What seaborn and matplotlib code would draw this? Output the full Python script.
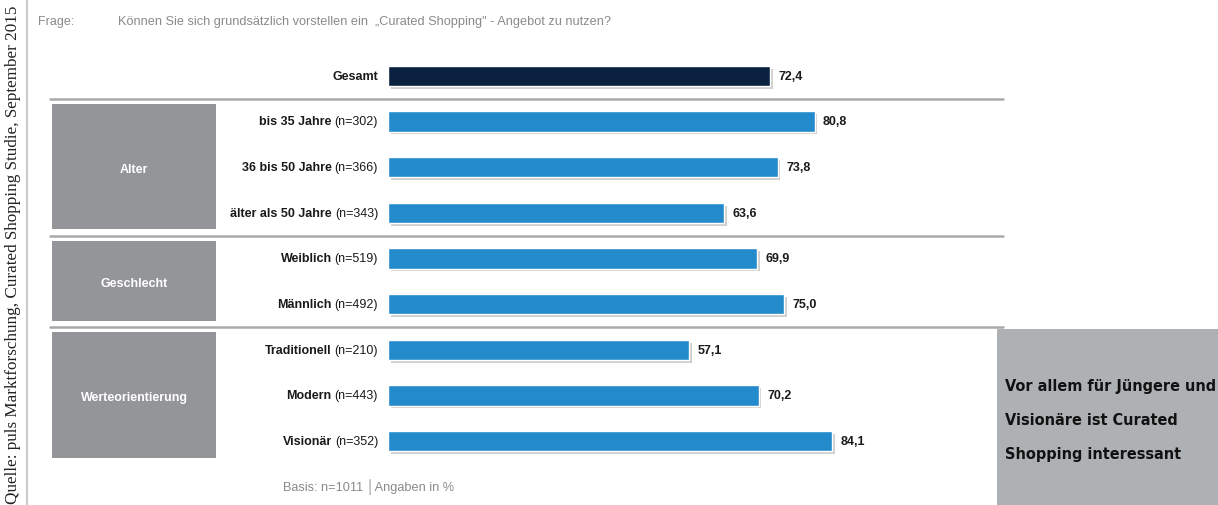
import pandas as pd
import seaborn as sns
import matplotlib.pyplot as plt
import matplotlib.patheffects as pe
from matplotlib import transforms
from matplotlib.patches import Rectangle

sns.set_theme(style="white")
plt.rcParams['font.family'] = ['Liberation Sans', 'DejaVu Sans']

# data
kategorien = ["Gesamt", "bis 35 Jahre", "36 bis 50 Jahre", "älter als 50 Jahre",
              "Weiblich", "Männlich", "Traditionell", "Modern", "Visionär"]
fallzahlen = ["", "(n=302)", "(n=366)", "(n=343)", "(n=519)", "(n=492)",
              "(n=210)", "(n=443)", "(n=352)"]
werte = [72.4, 80.8, 73.8, 63.6, 69.9, 75.0, 57.1, 70.2, 84.1]
gruppe = ["Gesamt", "Gruppe", "Gruppe", "Gruppe", "Gruppe", "Gruppe",
          "Gruppe", "Gruppe", "Gruppe"]
gruppen = ["Alter", "Geschlecht", "Werteorientierung"]
gruppen_von = [1, 4, 6]
gruppen_bis = [3, 5, 8]

df = pd.DataFrame({"kategorie": kategorien, "wert": werte, "gruppe": gruppe})

W, H = 1218, 506
fig = plt.figure(figsize=(W / 100, H / 100), dpi=100)
fig.patch.set_facecolor("white")

def fx(px):
    return px / W

def fy(py):
    return 1 - py / H

# bar axes: 0..100 maps to x 388..916 px
ax = fig.add_axes([fx(388), fy(465), fx(528), (465 - 54) / H])
sns.barplot(data=df, x="wert", y="kategorie", hue="gruppe",
            palette={"Gesamt": "#0a2240", "Gruppe": "#238acb"},
            orient="h", width=0.44, dodge=False, legend=False, ax=ax,
            saturation=1)
ax.set_xlim(0, 100)
ax.set_ylim(8.5, -0.5)
ax.axis("off")

for p in ax.patches:
    p.set_path_effects([pe.SimplePatchShadow(offset=(2, -2), shadow_rgbFace="#777777", alpha=0.35),
                        pe.Normal()])

for i, v in enumerate(werte):
    ax.text(v + 1.6, i, f"{v:.1f}".replace(".", ","), ha="left", va="center",
            fontsize=9, fontweight="bold", color="#1a1a1a")

# category labels: bold name + normal n
blend = transforms.blended_transform_factory(fig.transFigure, ax.transData)
renderer = fig.canvas.get_renderer()
for i, (k, n) in enumerate(zip(kategorien, fallzahlen)):
    x_end = fx(378)
    if n:
        t = ax.text(x_end, i, n, transform=blend, ha="right", va="center",
                    fontsize=9, color="#1a1a1a")
        w = t.get_window_extent(renderer).width
        x_end = x_end - (w + 3) / W
    ax.text(x_end, i, k, transform=blend, ha="right", va="center",
            fontsize=9, fontweight="bold", color="#1a1a1a")

# separators
for yv in [0.5, 3.5, 5.5]:
    ax.plot([fx(50), fx(1003)], [yv, yv], transform=blend, color="#a9a9a9",
            lw=1.8, clip_on=False)

# group boxes
for g, a, b in zip(gruppen, gruppen_von, gruppen_bis):
    y0 = a - 0.38
    y1 = b + 0.36
    ax.add_patch(Rectangle((fx(52), y0), fx(164), y1 - y0, transform=blend,
                           facecolor="#939598", edgecolor="none", clip_on=False))
    ax.text(fx(134), (y0 + y1) / 2 + 0.05, g, transform=blend, ha="center", va="center",
            fontsize=9, fontweight="bold", color="white")

# right key message box
fig.add_artist(Rectangle((fx(997), 0), fx(221), (506 - 330) / H,
                         transform=fig.transFigure, facecolor="#aeb1b3", edgecolor="none"))
for j, line in enumerate(["Vor allem für Jüngere und", "Visionäre ist Curated",
                          "Shopping interessant"]):
    fig.text(fx(1005), fy(386 + 34.5 * j), line, ha="left", va="center",
             fontsize=11.6, fontweight="bold", fontstretch="condensed",
             color="#111111", family=["DejaVu Sans"])

# question and basis
fig.text(fx(38), fy(22), "Frage:", ha="left", va="center", fontsize=9, color="#8a8a8a")
fig.text(fx(118), fy(22),
         "Können Sie sich grundsätzlich vorstellen ein  „Curated Shopping\" - Angebot zu nutzen?",
         ha="left", va="center", fontsize=9.2, color="#8a8a8a")
fig.text(fx(283), fy(487), "Basis: n=1011 │Angaben in %", ha="left", va="center",
         fontsize=9.2, color="#8a8a8a")

# source on the left
fig.add_artist(plt.Line2D([fx(27), fx(27)], [0, 1], transform=fig.transFigure,
                          color="#cccccc", lw=1.5))
fig.text(fx(13), 0.497, "Quelle: puls Marktforschung, Curated Shopping Studie, September 2015",
         rotation=90, ha="center", va="center", fontsize=12.3, color="#222222",
         family=["Liberation Serif", "DejaVu Serif"])

fig.savefig("out.png", dpi=100)
